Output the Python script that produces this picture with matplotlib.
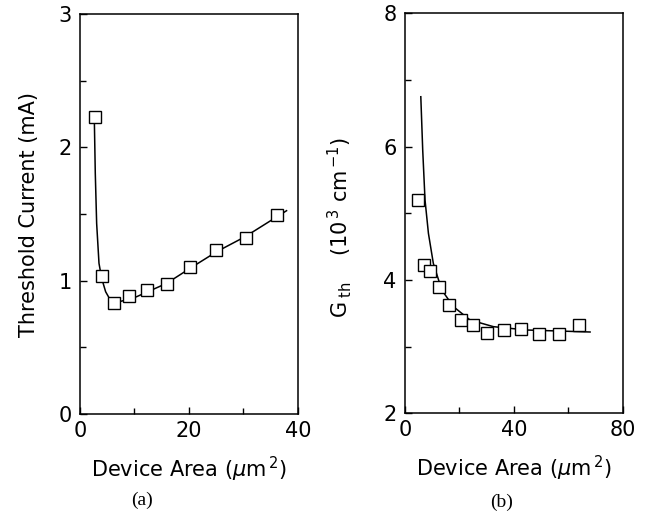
import matplotlib
matplotlib.use("Agg")
import matplotlib.pyplot as plt
from matplotlib.ticker import MultipleLocator

plt.rcParams["font.family"] = "DejaVu Sans"
plt.rcParams["mathtext.fontset"] = "dejavusans"

# (a) threshold current vs device area
area_a = [2.75, 4.0, 6.2, 9.05, 12.3, 16.0, 20.2, 25.0, 30.4, 36.1]
ith_a = [2.23, 1.035, 0.83, 0.885, 0.93, 0.975, 1.10, 1.23, 1.32, 1.49]
fit_x_a = [2.63, 2.81, 3.06, 3.49, 3.98, 4.71, 5.5, 6.42, 7.95, 10.4, 15.9, 20.2, 25.1, 30.3, 37.9]
fit_y_a = [2.22, 1.805, 1.43, 1.13, 1.018, 0.917, 0.86, 0.835, 0.85, 0.88, 0.98, 1.093, 1.218, 1.33, 1.525]

# (b) threshold gain vs device area
area_b = [4.66, 7.1, 9.2, 12.6, 16.3, 20.6, 25.1, 30.0, 36.3, 42.5, 49.4, 56.4, 63.8]
gth_b = [5.2, 4.22, 4.14, 3.90, 3.62, 3.40, 3.32, 3.21, 3.25, 3.26, 3.19, 3.19, 3.33]
fit_x_b = [5.8, 6.5, 7.35, 8.6, 10.4, 13.5, 17.8, 23.9, 32.5, 44.7, 68.0]
fit_y_b = [6.75, 5.95, 5.2, 4.7, 4.25, 3.85, 3.6, 3.40, 3.30, 3.25, 3.22]

fig = plt.figure(figsize=(6.47, 5.16), dpi=100)
ax1 = fig.add_axes([0.1236, 0.1977, 0.337, 0.775])
ax2 = fig.add_axes([0.626, 0.199, 0.3365, 0.775])

fs = 15
xlab = r"Device Area ($\mathit{\mu}$m$^{\,\mathrm{2}}$)"

for ax in (ax1, ax2):
    for s in ax.spines.values():
        s.set_linewidth(1.1)
    ax.tick_params(which="both", direction="in", width=1.0, labelsize=fs, pad=5)
    ax.tick_params(which="major", length=5)
    ax.tick_params(which="minor", length=4)
    ax.tick_params(axis="y", pad=6)
    ax.set_xlabel(xlab, fontsize=fs, labelpad=10)

ax1.plot(fit_x_a, fit_y_a, color="black", lw=1.1)
ax1.plot(area_a, ith_a, ls="none", marker="s", ms=8, mfc="white", mec="black", mew=1.0)
ax1.set_xlim(0, 40)
ax1.set_ylim(0, 3)
ax1.xaxis.set_major_locator(MultipleLocator(20))
ax1.xaxis.set_minor_locator(MultipleLocator(10))
ax1.yaxis.set_major_locator(MultipleLocator(1))
ax1.yaxis.set_minor_locator(MultipleLocator(0.5))
ax1.set_ylabel("Threshold Current (mA)", fontsize=fs, labelpad=14)

ax2.plot(fit_x_b, fit_y_b, color="black", lw=1.1)
ax2.plot(area_b, gth_b, ls="none", marker="s", ms=8, mfc="white", mec="black", mew=1.0)
ax2.set_xlim(0, 80)
ax2.set_ylim(2, 8)
ax2.xaxis.set_major_locator(MultipleLocator(40))
ax2.xaxis.set_minor_locator(MultipleLocator(20))
ax2.yaxis.set_major_locator(MultipleLocator(2))
ax2.yaxis.set_minor_locator(MultipleLocator(1))
ax2.set_ylabel(r"G$_{\;\mathrm{th}}$    (10$^{\,\mathrm{3}}$ cm$^{\,\mathrm{-1}}$)", fontsize=fs)
ax2.yaxis.set_label_coords(-0.235, 0.464)

fig.text(142 / 647, 1 - 500 / 516, "(a)", family="Liberation Serif", fontsize=14, ha="center", va="center")
fig.text(502 / 647, 1 - 502 / 516, "(b)", family="Liberation Serif", fontsize=14, ha="center", va="center")

fig.savefig("out.png", dpi=100)
